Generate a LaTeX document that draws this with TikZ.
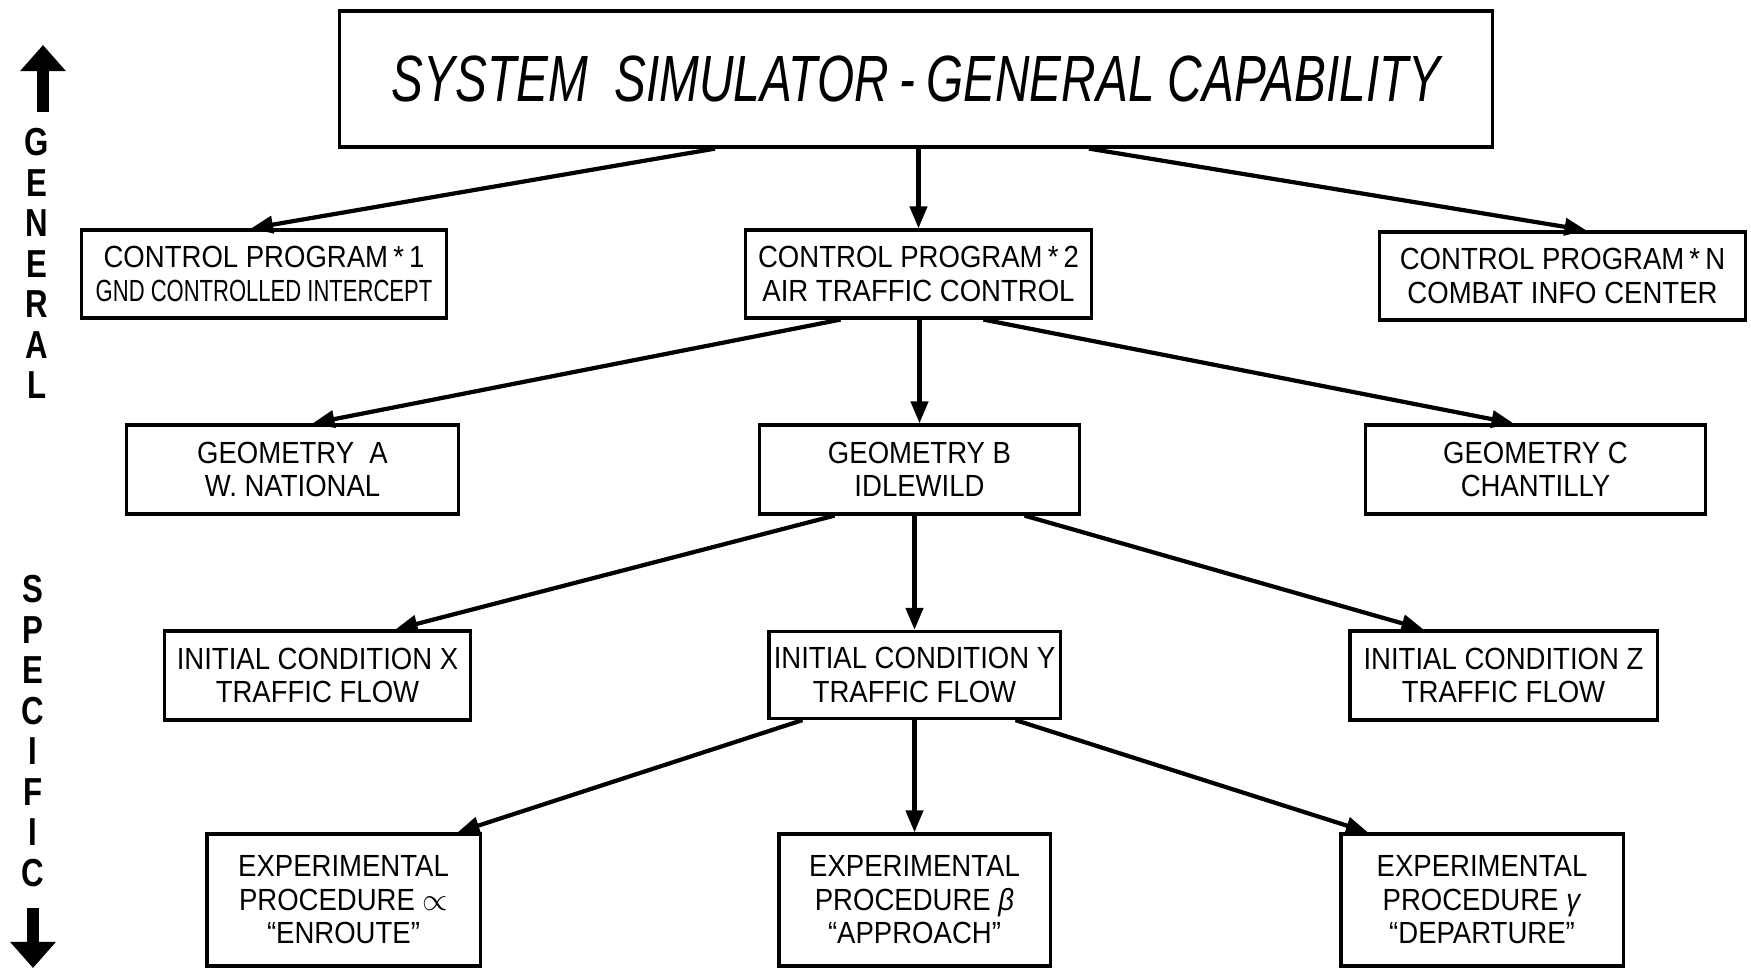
\documentclass[tikz,border=0pt]{standalone}
\usepackage{fontspec}
\usepackage{graphicx}
\setmainfont{Liberation Sans}
\newfontfamily\boxfont[FakeStretch=0.9]{Liberation Sans}
\newfontfamily\titlefont[FakeStretch=0.73]{Liberation Sans}
\newfontfamily\sidefont[FakeStretch=0.8]{Liberation Sans Bold}
\usetikzlibrary{arrows.meta,calc}

\tikzset{
  box/.style={draw, line width=0.9pt, align=center, inner sep=0pt,
    font=\boxfont\fontsize{8.7}{9.5}\selectfont},
  link/.style={line width=1.2pt, -{Triangle[length=0.22cm,width=0.17cm]}},
  sidearrow/.style={line width=3.2pt, -{Triangle[length=0.26cm,width=0.44cm]}},
  sidetext/.style={align=center, inner sep=0pt, anchor=north,
    font=\sidefont\fontsize{11.1}{11.5}\selectfont}
}

\begin{document}
\begin{tikzpicture}[x=0.01cm, y=-0.01cm]
	\useasboundingbox (0,0) rectangle (1751,970);
	
	% top level
	\node[box, minimum width=11.53cm, minimum height=1.36cm,
	      font=\titlefont\itshape\fontsize{18.6}{20}\selectfont] (title) at (916,79)
	      {SYSTEM\ \ SIMULATOR\,-\,GENERAL CAPABILITY};
	
	% control programs
	\node[box, minimum width=3.64cm, minimum height=0.88cm] (cp1) at (264,274)
	      {CONTROL PROGRAM\,*\,1\\\scalebox{0.8}[1]{GND CONTROLLED INTERCEPT}};
	\node[box, minimum width=3.45cm, minimum height=0.88cm] (cp2) at (918.5,274)
	      {CONTROL PROGRAM\,*\,2\\AIR TRAFFIC CONTROL};
	\node[box, minimum width=3.65cm, minimum height=0.88cm] (cpn) at (1562.5,276)
	      {CONTROL PROGRAM\,*\,N\\COMBAT INFO CENTER};
	
	% geometries
	\node[box, minimum width=3.31cm, minimum height=0.89cm] (geoa) at (292.5,469.5)
	      {GEOMETRY\ \ A\\W. NATIONAL};
	\node[box, minimum width=3.19cm, minimum height=0.89cm] (geob) at (919.5,469.5)
	      {GEOMETRY B\\IDLEWILD};
	\node[box, minimum width=3.39cm, minimum height=0.89cm] (geoc) at (1535.5,469.5)
	      {GEOMETRY C\\CHANTILLY};
	
	% initial conditions
	\node[box, minimum width=3.05cm, minimum height=0.89cm] (icx) at (317.5,675.5)
	      {INITIAL CONDITION X\\TRAFFIC FLOW};
	\node[box, minimum width=2.91cm, minimum height=0.87cm] (icy) at (914.5,675)
	      {INITIAL CONDITION Y\\TRAFFIC FLOW};
	\node[box, minimum width=3.07cm, minimum height=0.89cm] (icz) at (1503.5,675.5)
	      {INITIAL CONDITION Z\\TRAFFIC FLOW};
	
	% experimental procedures
	\node[box, minimum width=2.73cm, minimum height=1.32cm] (epa) at (343.5,900)
	      {EXPERIMENTAL\\PROCEDURE $\propto$\\“ENROUTE”};
	\node[box, minimum width=2.71cm, minimum height=1.32cm] (epb) at (914.5,900)
	      {EXPERIMENTAL\\PROCEDURE \textit{β}\\“APPROACH”};
	\node[box, minimum width=2.82cm, minimum height=1.32cm] (epc) at (1482,900)
	      {EXPERIMENTAL\\PROCEDURE \textit{γ}\\“DEPARTURE”};
	
	% links
	\draw[link] ($(title.south)+(-201,0)$) -- ($(cp1.north)+(-13,0)$);
	\draw[link] (title.south -| cp2.north) -- (cp2.north);
	\draw[link] ($(title.south)+(173,0)$) -- ($(cpn.north)+(24,0)$);
	
	\draw[link] ($(cp2.south)+(-78,0)$) -- ($(geoa.north)+(20,0)$);
	\draw[link] (cp2.south -| geob.north) -- (geob.north);
	\draw[link] ($(cp2.south)+(65,0)$) -- ($(geoc.north)+(-22,0)$);
	
	\draw[link] ($(geob.south)+(-85,0)$) -- ($(icx.north)+(78,0)$);
	\draw[link] (geob.south -| icy.north) -- (icy.north);
	\draw[link] ($(geob.south)+(105,0)$) -- ($(icz.north)+(-80,0)$);
	
	\draw[link] ($(icy.south)+(-112,0)$) -- ($(epa.north)+(114,0)$);
	\draw[link] (icy.south -| epb.north) -- (epb.north);
	\draw[link] ($(icy.south)+(101,0)$) -- ($(epc.north)+(-114,0)$);
	
	% side scale
	\coordinate (upbase) at (43,112);
	\coordinate (uptip) at (43,45);
	\draw[sidearrow] (upbase) -- (uptip);
	\node[sidetext] (gen) at (37,128) {G\\E\\N\\E\\R\\A\\L};
	
	\node[sidetext] (spec) at (33,575) {S\\P\\E\\C\\I\\F\\I\\C};
	\coordinate (downbase) at (33,908);
	\coordinate (downtip) at (33,968);
	\draw[sidearrow] (downbase) -- (downtip);
\end{tikzpicture}
\end{document}
